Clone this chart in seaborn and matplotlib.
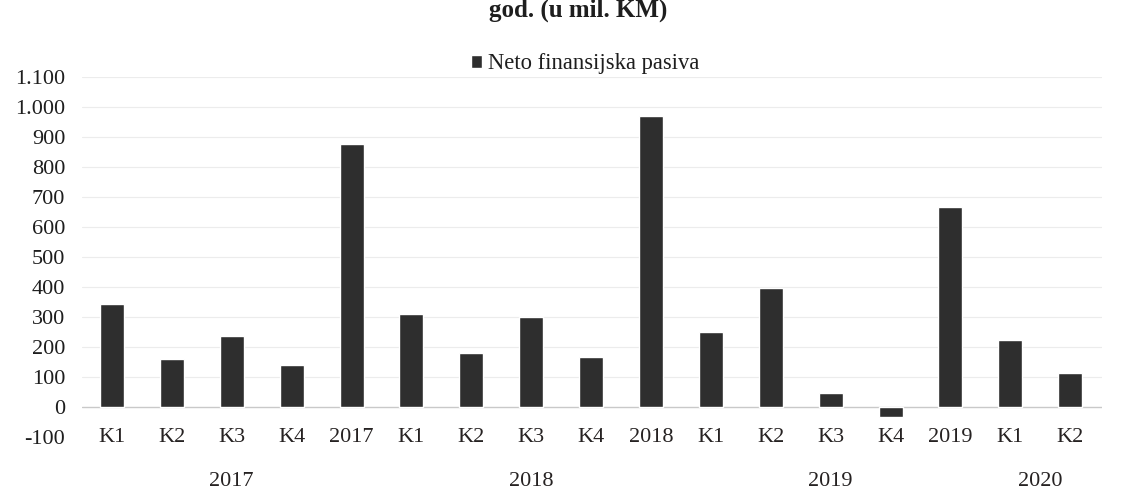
import matplotlib
matplotlib.use("Agg")
import matplotlib.pyplot as plt
import matplotlib.transforms as mtransforms
from matplotlib.ticker import FuncFormatter, FixedLocator
import seaborn as sns
import pandas as pd

# ---- data ----
periods = ["K1", "K2", "K3", "K4", "2017",
           "K1", "K2", "K3", "K4", "2018",
           "K1", "K2", "K3", "K4", "2019",
           "K1", "K2"]
groups = ["2017"] * 5 + ["2018"] * 5 + ["2019"] * 5 + ["2020"] * 2
values = [344, 160, 237, 140, 876,
          311, 181, 301, 167, 970,
          251, 398, 47, -33, 666,
          224, 112]
series_name = "Neto finansijska pasiva"
title_text = "god. (u mil. KM)"
y_ticks = list(range(-100, 1101, 100))

keys = [f"{g}-{i}" for i, g in enumerate(groups)]
df = pd.DataFrame({"key": keys, "value": values, "period": periods, "group": groups})

sns.set_theme(style="white")
plt.rcParams["font.family"] = ["Liberation Serif", "DejaVu Serif"]

W, H = 1121, 493
FS = 16
fig = plt.figure(figsize=(W / 100, H / 100), dpi=100)
fig.patch.set_facecolor("white")
ax = fig.add_axes([82 / W, 1 - 437 / H, (1102 - 82) / W, (437 - 77) / H])

sns.barplot(data=df, x="key", y="value", order=keys, color="#2e2e2e",
            saturation=1, width=0.4, label=series_name, ax=ax, zorder=3)

ax.set_ylim(-100, 1100)
ax.set_xlim(-0.5, len(keys) - 0.5 + 0.03)
ax.yaxis.set_major_locator(FixedLocator(y_ticks))
ax.yaxis.set_major_formatter(FuncFormatter(lambda v, p: f"{int(v):,}".replace(",", ".")))
for t in y_ticks:
    if t > 0:
        ax.axhline(t, color="#ececec", lw=0.8, zorder=0)
ax.axhline(0, color="#c9c9c9", lw=1.0, zorder=1)

for s in ax.spines.values():
    s.set_visible(False)

ax.set_xlabel("")
ax.set_ylabel("")
ax.set_xticks(range(len(keys)))
ax.set_xticklabels(periods)
ax.tick_params(axis="x", length=0, pad=0, labelsize=FS, colors="#262222")
ax.tick_params(axis="y", length=0, pad=12, labelsize=FS, colors="#1e1e1e")
for lab in ax.get_xticklabels():
    lab.set_va("center")

# year group labels
trans = mtransforms.blended_transform_factory(ax.transData, fig.transFigure)
start = 0
for g in ["2017", "2018", "2019", "2020"]:
    n = groups.count(g)
    center = start + (n - 1) / 2
    ax.text(center, 1 - 482 / H, g, transform=trans, ha="center", va="center",
            fontsize=FS, color="#262222")
    start += n

# legend
ax.legend(loc="center", bbox_to_anchor=(585 / W, 1 - 64 / H), bbox_transform=fig.transFigure,
          frameon=False, fontsize=16.3, handlelength=0.5, handleheight=0.5,
          handletextpad=0.25, labelcolor="#1e1e1e")

fig.text(578 / W, 1 - 10 / H, title_text, ha="center", va="center",
         fontsize=18, fontweight="bold", color="#1e1e1e")

fig.savefig("out.png", dpi=100, facecolor="white")
